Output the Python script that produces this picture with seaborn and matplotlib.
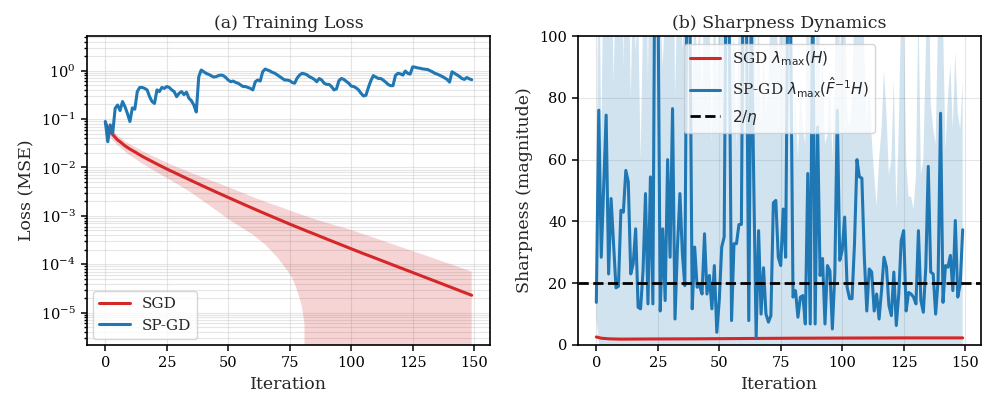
import numpy as np
import matplotlib
matplotlib.use("Agg")
import matplotlib.pyplot as plt
import seaborn as sns

# ---------------- data ----------------
iterations = list(range(150))

# (a) SGD loss: mean and std read at selected iterations
sgd_loss_iter = [0, 1, 2, 3, 4, 5, 6, 8, 10, 12, 15, 20, 25, 30, 35, 40, 45, 50, 55, 60,
                 65, 70, 72, 74, 75, 76, 77, 78, 79, 80, 81, 82, 83, 85, 90, 95, 100,
                 105, 110, 115, 120, 125, 130, 135, 140, 145, 149]
sgd_loss_mean = [0.085, 0.065, 0.055, 0.048, 0.042, 0.037, 0.034, 0.028, 0.024, 0.021,
                 0.017, 0.0125, 0.0093, 0.00705, 0.00535, 0.00407, 0.00312, 0.00240,
                 0.00185, 0.00143, 0.00111, 0.000867, 0.000785, 0.000711, 0.000676,
                 0.000645, 0.000615, 0.000586, 0.000560, 0.000533, 0.000508, 0.000485,
                 0.000463, 0.000422, 0.000333, 0.000264, 0.000209, 0.000166, 0.000133,
                 0.000106, 0.0000845, 0.0000676, 0.0000540, 0.0000431, 0.0000344,
                 0.0000274, 0.0000229]
sgd_loss_std = [0.0213, 0.0160, 0.0130, 0.0110, 0.0095, 0.0085, 0.0078, 0.0068, 0.0062,
                0.0057, 0.0050, 0.0040, 0.00326, 0.00275, 0.00235, 0.00208, 0.00181,
                0.00154, 0.00126, 0.00102, 0.000855, 0.000728, 0.000683, 0.000636,
                0.000613, 0.000593, 0.000575, 0.000557, 0.000540, 0.000520, 0.000502,
                0.000487, 0.000470, 0.000439, 0.000383, 0.000343, 0.000303, 0.000252,
                0.000210, 0.000174, 0.000144, 0.000120, 0.0000994, 0.0000819,
                0.0000678, 0.0000556, 0.0000474]

# (a) SP-GD loss (single run)
spgd_loss = [0.089, 0.034, 0.076, 0.051, 0.167, 0.195, 0.15, 0.23, 0.18, 0.13,
             0.089, 0.17, 0.16, 0.37, 0.45, 0.45, 0.43, 0.40, 0.29, 0.23,
             0.21, 0.40, 0.37, 0.45, 0.43, 0.47, 0.45, 0.40, 0.37, 0.29,
             0.34, 0.37, 0.32, 0.36, 0.27, 0.24, 0.195, 0.14, 0.75, 1.03,
             0.95, 0.88, 0.84, 0.79, 0.74, 0.75, 0.79, 0.81, 0.79, 0.72,
             0.64, 0.59, 0.61, 0.57, 0.55, 0.51, 0.47, 0.47, 0.45, 0.43,
             0.40, 0.59, 0.64, 0.61, 0.95, 1.08, 1.03, 0.98, 0.92, 0.88,
             0.81, 0.75, 0.69, 0.64, 0.64, 0.62, 0.57, 0.55, 0.70, 0.81,
             0.88, 0.86, 0.82, 0.75, 0.71, 0.66, 0.59, 0.69, 0.64, 0.55,
             0.52, 0.52, 0.47, 0.40, 0.42, 0.62, 0.69, 0.66, 0.60, 0.55,
             0.48, 0.47, 0.44, 0.40, 0.34, 0.30, 0.31, 0.45, 0.62, 0.79,
             0.74, 0.69, 0.69, 0.64, 0.58, 0.52, 0.49, 0.49, 0.80, 0.88,
             0.86, 0.81, 0.98, 0.88, 0.85, 1.20, 1.18, 1.14, 1.12, 1.09,
             1.07, 1.06, 1.00, 0.95, 0.88, 0.85, 0.80, 0.76, 0.71, 0.66,
             0.58, 0.95, 0.88, 0.82, 0.76, 0.69, 0.66, 0.72, 0.68, 0.65]

# (b) SGD sharpness
sgd_sharp_iter = [0, 2, 5, 10, 20, 40, 60, 80, 100, 125, 149]
sgd_sharp_mean = [2.6, 2.2, 2.0, 1.9, 1.95, 2.0, 2.1, 2.2, 2.25, 2.3, 2.3]
sgd_sharp_std = [0.25, 0.25, 0.25, 0.25, 0.25, 0.25, 0.25, 0.25, 0.25, 0.25, 0.25]

# (b) SP-GD sharpness mean and band upper edge (mean + std)
spgd_sharp_mean = [13.8, 76, 28.4, 51, 74.4, 23, 47.4, 33, 18.5, 19,
                   43.6, 43, 56.5, 52.8, 23, 26.3, 37.6, 12.2, 11.7, 24,
                   49, 13.3, 54.4, 13.3, 160, 125, 11, 37.6, 14.4, 60,
                   28.4, 76.5, 8.4, 31.7, 49, 29.5, 19.2, 140, 115, 11.7,
                   31.7, 18.7, 19.2, 16.5, 36, 16.5, 22.5, 11.7, 25.7, 4.1,
                   14.4, 31.7, 35, 150, 110, 7.9, 32.8, 32.8, 39, 39,
                   160, 115, 7.9, 110, 54, 2.5, 37, 10, 25, 10,
                   7.4, 9.5, 46, 46.8, 28.4, 25.7, 44, 28.4, 130, 105,
                   15.5, 17.6, 9, 15.5, 16, 6.8, 55.5, 6.8, 120, 6.8,
                   70.6, 22.5, 28, 6.8, 25.7, 24, 5.2, 23, 76, 27.4,
                   30.6, 41.4, 18.7, 15, 15, 32.8, 60, 54.4, 54, 28.4,
                   11, 24.6, 23.6, 11, 16.5, 8.4, 17.6, 28.4, 25.2, 12.8,
                   9.5, 23.6, 6.3, 16.5, 33.8, 37, 11, 17, 16.5, 15.5,
                   13.3, 37, 14.4, 10.6, 25.2, 57.8, 23.6, 23, 10, 20.9,
                   75, 13.8, 25.7, 25.2, 29, 17.6, 40.3, 15.5, 19.8, 37.3]
spgd_sharp_upper = [18.6, 151, 65, 130, 180, 110, 150, 85, 120, 105,
                    140, 90, 160, 140, 80, 120, 95, 110, 60, 105,
                    150, 85, 160, 120, 400, 300, 110, 90, 110, 170,
                    100, 200, 80, 115, 140, 95, 110, 350, 300, 75,
                    115, 90, 105, 80, 120, 100, 110, 65, 120, 85,
                    110, 120, 140, 380, 280, 90, 100, 63.6, 110, 120,
                    400, 300, 75, 280, 150, 80, 110, 70, 95, 75,
                    85, 110, 130, 115, 90, 110, 130, 100, 330, 270,
                    65, 80, 60, 85, 70, 65, 150, 80, 300, 72,
                    180, 80, 95, 65, 68, 90, 60, 85, 190, 95,
                    105, 120, 75, 70, 80, 110, 150, 140, 130, 95,
                    70, 88, 67, 55, 45, 60, 70, 89, 75, 55,
                    60, 86, 44, 70, 110, 110, 60, 48, 48, 44,
                    55, 110, 55, 60, 95, 140, 78, 70, 65, 105,
                    190, 105, 63, 80, 91, 70, 95, 75, 70, 85]

eta_threshold = 20

# ---------------- style ----------------
sns.set_theme(style="ticks")
plt.rcParams.update({
    "font.family": ["DejaVu Serif"],
    "axes.edgecolor": "black",
    "axes.linewidth": 1.2,
    "xtick.color": "black",
    "ytick.color": "black",
    "xtick.labelsize": 10.5,
    "ytick.labelsize": 10.5,
    "xtick.major.width": 1.1,
    "ytick.major.width": 1.1,
    "xtick.major.size": 4.5,
    "ytick.major.size": 4.5,
    "ytick.minor.size": 2.5,
    "axes.labelsize": 12.5,
    "axes.titlesize": 12.5,
    "legend.fontsize": 11,
})

RED = "#d62728"
BLUE = "#1f77b4"

fig = plt.figure(figsize=(9.82, 3.98), dpi=100)
ax1 = fig.add_axes([87 / 982, 1 - 345 / 398, 403 / 982, 309 / 398])
ax2 = fig.add_axes([578 / 982, 1 - 345 / 398, 403 / 982, 309 / 398])

# ---------------- (a) ----------------
ax1.set_yscale("log")
m = np.array(sgd_loss_mean)
s = np.array(sgd_loss_std)
ax1.fill_between(sgd_loss_iter, m - s, m + s, color=RED, alpha=0.2, linewidth=0)
sns.lineplot(x=sgd_loss_iter, y=sgd_loss_mean, ax=ax1, color=RED, lw=2.2, label="SGD")
sns.lineplot(x=iterations, y=spgd_loss, ax=ax1, color=BLUE, lw=2.2, label="SP-GD")
ax1.set_ylim(2.15e-6, 5.2)
ax1.set_xlim(-7.45, 156.45)
ax1.set_xticks([0, 25, 50, 75, 100, 125, 150])
ax1.grid(True, which="both", color="#cccccc", alpha=0.5, linewidth=0.8)
ax1.set_title("(a) Training Loss")
ax1.set_xlabel("Iteration")
ax1.set_ylabel("Loss (MSE)")
ax1.legend(loc="lower left", borderaxespad=0.4)

# ---------------- (b) ----------------
sm = np.array(spgd_sharp_mean)
su = np.array(spgd_sharp_upper)
ax2.fill_between(iterations, 2 * sm - su, su, color=BLUE, alpha=0.2, linewidth=0)
gm = np.array(sgd_sharp_mean)
gs = np.array(sgd_sharp_std)
ax2.fill_between(sgd_sharp_iter, gm - gs, gm + gs, color=RED, alpha=0.2, linewidth=0)
sns.lineplot(x=sgd_sharp_iter, y=sgd_sharp_mean, ax=ax2, color=RED, lw=2.2,
             label=r"SGD $\lambda_{\max}(H)$")
sns.lineplot(x=iterations, y=spgd_sharp_mean, ax=ax2, color=BLUE, lw=2.2,
             label=r"SP-GD $\lambda_{\max}(\hat{F}^{-1}H)$")
ax2.axhline(eta_threshold, color="black", ls="--", lw=2.0, label=r"$2/\eta$")
ax2.set_ylim(0, 100)
ax2.set_xlim(-7.45, 156.45)
ax2.set_xticks([0, 25, 50, 75, 100, 125, 150])
ax2.grid(True, color="#cccccc", alpha=0.5, linewidth=0.8)
ax2.set_title("(b) Sharpness Dynamics")
ax2.set_xlabel("Iteration")
ax2.set_ylabel("Sharpness (magnitude)")
ax2.legend(loc="upper center")

fig.savefig("out.png", dpi=100)
